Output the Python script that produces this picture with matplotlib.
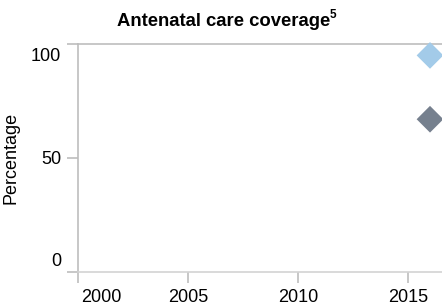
import matplotlib.pyplot as plt
import matplotlib as mpl
from matplotlib.transforms import ScaledTranslation

mpl.rcParams['font.family'] = ['Liberation Sans', 'DejaVu Sans']

# Data
years = [2016, 2016]
coverage = [95, 67]
marker_colors = ['#a3cbe9', '#76808e']

x_ticks = [2000, 2005, 2010, 2015]
y_ticks = [0, 50, 100]

fig = plt.figure(figsize=(4.42, 3.06), dpi=100)
W, H = 442, 306
# axes: left 78px, top 44px, bottom 272px, 22px per year
left, top, bottom = 78, 44, 272
ax = fig.add_axes([left / W, 1 - bottom / H, 22 * 17 / W, (bottom - top) / H])
ax.set_xlim(2000, 2017)
ax.set_ylim(0, 100)

for x, y, c in zip(years, coverage, marker_colors):
    ax.scatter(x, y, marker='D', s=185, color=c, edgecolors='none',
               zorder=3, clip_on=False)

ax.spines['right'].set_visible(False)
ax.spines['top'].set_color('#bdbdbd')
ax.spines['left'].set_color('#bdbdbd')
ax.spines['bottom'].set_color('#d3d3d3')
for s in ax.spines.values():
    s.set_linewidth(1.2)

ax.set_xticks(x_ticks)
ax.set_xticklabels([str(v) for v in x_ticks])
ax.set_yticks(y_ticks)
ax.set_yticklabels([str(v) for v in y_ticks])
ax.tick_params(axis='both', colors='#bdbdbd', labelcolor='black',
               labelsize=13, length=8, width=1.2)
ax.tick_params(axis='y', pad=4)
ax.tick_params(axis='x', pad=4)

def shift(lbl, dx, dy):
    lbl.set_transform(lbl.get_transform() +
                      ScaledTranslation(dx / 100, dy / 100, fig.dpi_scale_trans))

# end labels sit inside the axis range, like the original
ylabels = ax.get_yticklabels()
ylabels[0].set_va('bottom')
shift(ylabels[0], 0, 2)
ylabels[-1].set_va('top')
shift(ylabels[-1], 0, -4)
xlabels = ax.get_xticklabels()
xlabels[0].set_ha('left')
shift(xlabels[0], 3, 0)

ax.set_ylabel('Percentage', fontsize=13)
ax.yaxis.set_label_coords((19 - left) / 374, 0.5)

t = fig.text(224 / W, 1 - 21 / H, 'Antenatal care coverage', ha='center',
             va='center', fontsize=13.3, fontweight='bold')
fig.canvas.draw()
bb = t.get_window_extent()
fig.text((bb.x1 - 1) / W, (bb.y1 + 3) / H, '5', fontsize=8.5,
         fontweight='bold', va='top')

fig.savefig('out.png', dpi=100)
